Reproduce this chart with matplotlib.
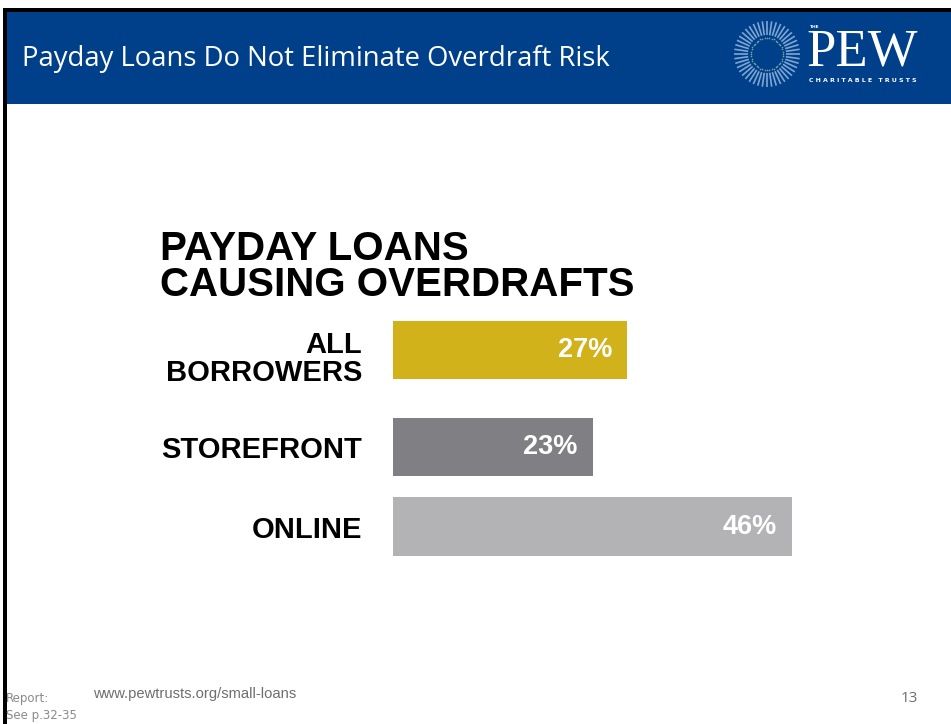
import numpy as np
import matplotlib
matplotlib.use("Agg")
from matplotlib import pyplot as plt
from matplotlib.patches import Rectangle
from matplotlib.transforms import ScaledTranslation

# Share of payday borrowers whose loan caused an overdraft
categories = ["ALL\nBORROWERS", "STOREFRONT", "ONLINE"]
values = [27, 23, 46]
bar_colors = ["#d1b21b", "#808084", "#b3b3b5"]

slide_title = "Payday Loans Do Not Eliminate Overdraft Risk"
chart_title = "PAYDAY LOANS\nCAUSING OVERDRAFTS"
footer_url = "www.pewtrusts.org/small-loans"
footer_note = "Report:\nSee p.32-35"
page_number = "13"

W, H = 951, 724
BLUE = "#00408a"

fig = plt.figure(figsize=(W / 100, H / 100), dpi=100)
fig.patch.set_facecolor("white")

# overlay in pixel coordinates for the slide frame, header and logo
deco = fig.add_axes([0, 0, 1, 1])
deco.set_xlim(0, W)
deco.set_ylim(H, 0)
deco.axis("off")

deco.add_patch(Rectangle((7, 12), W - 7, 92, color=BLUE, lw=0))
deco.add_patch(Rectangle((3, 8), W - 3, 4, color="black", lw=0))
deco.add_patch(Rectangle((3, 8), 4, H - 8, color="black", lw=0))

deco.text(22, 59, slide_title, color="white", fontsize=19.8,
          family="Open Sans", va="center", ha="left")

# sunburst mark
cx, cy = 767, 54
n_rays = 44
for k in range(n_rays):
    a = 2 * np.pi * k / n_rays
    c, s = np.cos(a), np.sin(a)
    deco.plot([cx + 19 * c, cx + 33 * c], [cy + 19 * s, cy + 33 * s],
              color="#a9c8ec", lw=1.2, alpha=0.75, solid_capstyle="butt")
    deco.plot(cx + 16 * c, cy + 16 * s, "o", ms=1.2, color="#8fbf9a",
              alpha=0.8, mec="none")

deco.text(810, 27, "THE", color="white", fontsize=3.2, fontweight="bold",
          va="center", ha="left", family="DejaVu Sans")
deco.text(806, 53, "PEW", color="white", fontsize=38, family="Liberation Serif",
          va="center", ha="left")
deco.text(863, 80, "C H A R I T A B L E   T R U S T S", color="white",
          fontsize=4.5, fontweight="bold", va="center", ha="center",
          family="DejaVu Sans")

# chart heading
deco.text(160, 267, chart_title, color="black", fontsize=29, fontweight="bold",
          family="Liberation Sans", va="center", ha="left", linespacing=0.92)

# footer
deco.text(6, 707, footer_note, color="#8a8a8a", fontsize=8.5,
          family="Liberation Sans Narrow", va="center", ha="left",
          linespacing=1.45)
deco.text(93, 694, footer_url, color="#6e6e6e", fontsize=10.6,
          family="Liberation Sans", va="center", ha="left")
deco.text(918, 699, page_number, color="#6e6e6e", fontsize=11,
          family="Open Sans", va="center", ha="right")

# bar chart: row units, one row = 97 px
ypos = [0, 1, 1.82]
row_px = 97
top_px = 350 - 0.5 * row_px
bottom_px = 350 + 2.5 * row_px
ax = fig.add_axes([393 / W, 1 - bottom_px / H, 434 / W, (bottom_px - top_px) / H])
ax.set_xlim(0, 50)
ax.set_ylim(2.5, -0.5)
ax.barh(ypos, values, height=0.6, color=bar_colors, edgecolor="none")
ax.set_yticks(ypos)
labels = ax.set_yticklabels(categories, fontsize=21, fontweight="bold",
                            family="Liberation Sans", linespacing=1.02)
ax.tick_params(axis="y", length=0, pad=22)
ax.set_xticks([])
for side in ax.spines.values():
    side.set_visible(False)
ax.patch.set_alpha(0)

# the two-line label sits a little below its bar's centre
labels[0].set_transform(labels[0].get_transform()
                        + ScaledTranslation(0, -0.06, fig.dpi_scale_trans))

for y, v in zip(ypos, values):
    ax.annotate(f"{v}%", xy=(v, y), xytext=(-10.8, 0), textcoords="offset points",
                ha="right", va="center", color="white", fontsize=19.5,
                fontweight="bold", family="Liberation Sans")

fig.savefig("out.png", dpi=100)
